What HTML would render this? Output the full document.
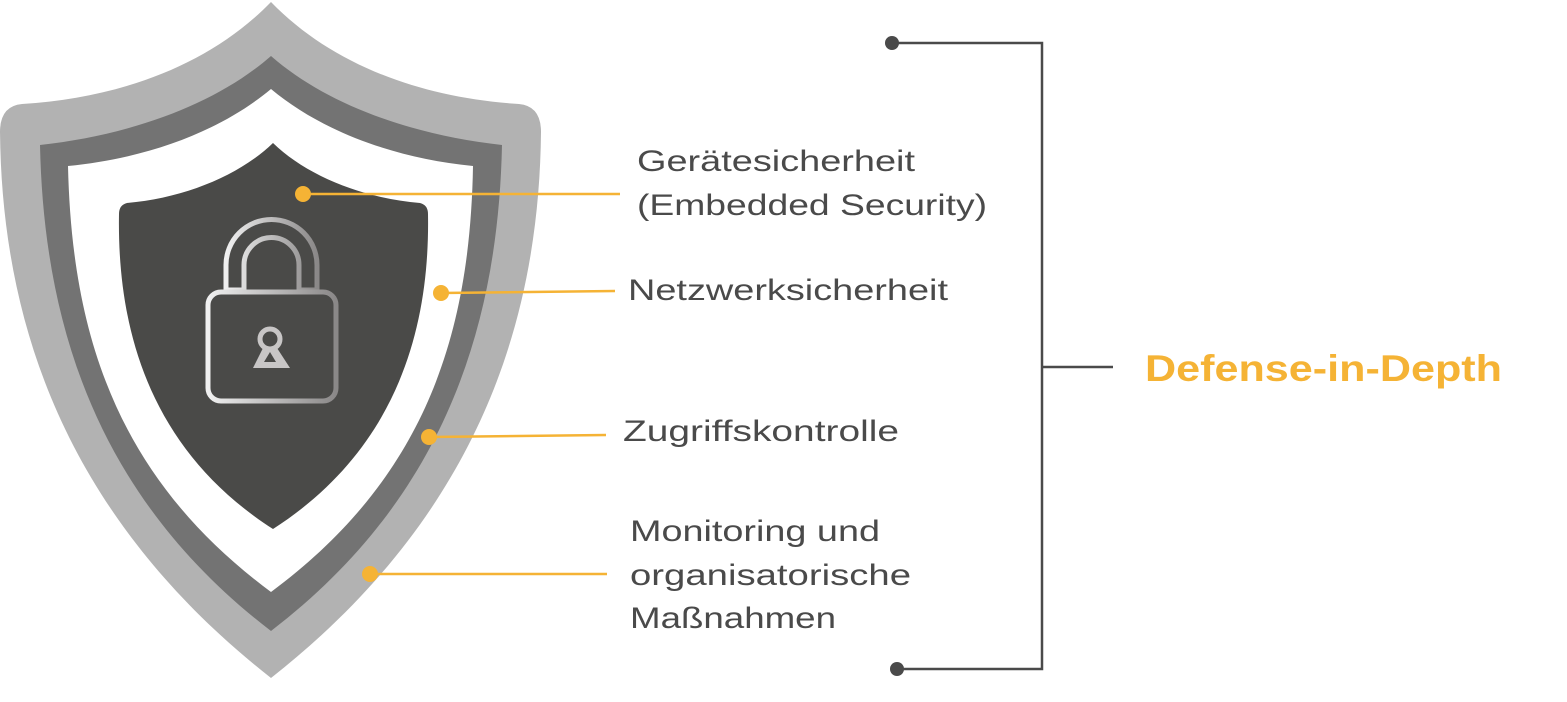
<!DOCTYPE html>
<html><head><meta charset="utf-8"><style>
html,body{margin:0;padding:0;background:#fff;width:1567px;height:702px;overflow:hidden}
svg{display:block}
text{font-family:"Liberation Sans",sans-serif}
</style></head><body>
<svg width="1567" height="702" viewBox="0 0 1567 702" xmlns="http://www.w3.org/2000/svg">
<defs>
<linearGradient id="lg" x1="0" x2="1" y1="0" y2="0">
<stop offset="0" stop-color="#f0f0f0"/><stop offset="1" stop-color="#8a8888"/></linearGradient>
</defs>
<path d="M271,2 C210,65 120,98 22,104 Q0,106 0,132 C2,330 70,520 271,678 C472,520 539,330 541,132 Q541,106 519,104 C422,98 332,65 271,2Z" fill="#b2b2b2"/>
<path d="M271,56 C215,105 130,135 40,145 C44,330 100,500 271,631 C442,500 498,330 502,145 C412,135 327,105 271,56Z" fill="#737373"/>
<path d="M271,89 C222,130 150,158 68,166 C72,340 120,480 271,592 C422,480 470,340 473,166 C392,158 320,130 271,89Z" fill="#fff"/>
<path d="M273,143 C240,175 185,198 127,203 Q119,205 119,214 C117,330 150,450 273,529 C396,450 430,330 428,214 Q428,205 420,203 C361,198 306,175 273,143Z" fill="#4a4a48"/>
<!-- lock -->
<path d="M226,290 V265 A45,45 0 0 1 317,265 V290 M244,290 V265 A27.5,27.5 0 0 1 299,265 V290 M226,290 H244 M299,290 H317" fill="none" stroke="url(#lg)" stroke-width="5"/>
<rect x="208" y="292" width="128" height="109" rx="13" fill="none" stroke="url(#lg)" stroke-width="5"/>
<circle cx="270" cy="339" r="10" fill="none" stroke="#c8c6c6" stroke-width="5"/>
<path d="M263,348 L277,348 L290,368 L253,368Z M264,362 L276,362 L270,352Z" fill="#c8c6c6" fill-rule="evenodd"/>
<g stroke="#f5b335" stroke-width="2.5" fill="#f5b335">
<line x1="303" y1="194" x2="620" y2="194"/><circle cx="303" cy="194" r="8" stroke="none"/>
<line x1="441" y1="293" x2="615" y2="291"/><circle cx="441" cy="293" r="8" stroke="none"/>
<line x1="429" y1="437" x2="606" y2="435"/><circle cx="429" cy="437" r="8" stroke="none"/>
<line x1="370" y1="574" x2="607" y2="574"/><circle cx="370" cy="574" r="8" stroke="none"/>
</g>
<g font-size="30" fill="#4a4a4a">
<text x="637" y="171" textLength="278" lengthAdjust="spacingAndGlyphs">Gerätesicherheit</text>
<text x="637" y="215" textLength="350" lengthAdjust="spacingAndGlyphs">(Embedded Security)</text>
<text x="628" y="300" textLength="320" lengthAdjust="spacingAndGlyphs">Netzwerksicherheit</text>
<text x="623" y="441" textLength="276" lengthAdjust="spacingAndGlyphs">Zugriffskontrolle</text>
<text x="630" y="541" textLength="250" lengthAdjust="spacingAndGlyphs">Monitoring und</text>
<text x="630" y="585" textLength="281" lengthAdjust="spacingAndGlyphs">organisatorische</text>
<text x="630" y="628" textLength="206" lengthAdjust="spacingAndGlyphs">Maßnahmen</text>
</g>
<g stroke="#4a4a4a" stroke-width="2.5" fill="none">
<path d="M892,43 H1042 V669 H897"/>
<line x1="1042" y1="367" x2="1113" y2="367"/>
</g>
<circle cx="892" cy="43" r="7" fill="#4a4a4a"/>
<circle cx="897" cy="669" r="7" fill="#4a4a4a"/>
<text x="1145" y="381" font-size="37" font-weight="bold" fill="#f5b335" textLength="357" lengthAdjust="spacingAndGlyphs">Defense-in-Depth</text>
</svg>
</body></html>
